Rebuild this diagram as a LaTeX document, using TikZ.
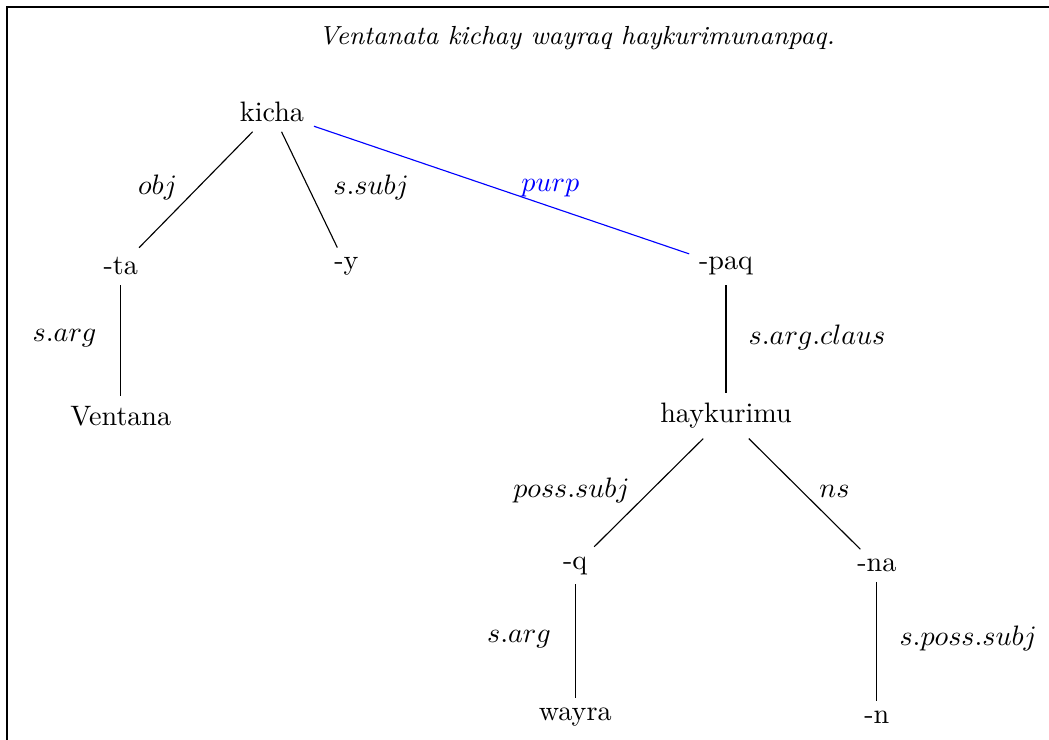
\documentclass[tikz,border=0pt]{standalone}
\usepackage{amsmath}
\usetikzlibrary{positioning}

\begin{document}
\begin{tikzpicture}[
        font=\normalsize,
        word/.style={inner sep=3.33pt},
        dep/.style={black},
        lbl/.style={pos=.48},
        sent/.style={font=\fontsize{9.3}{11}\selectfont\itshape},
    ]
        \useasboundingbox (0,0) rectangle (13.1125,9.25);
        \draw[semithick] (0.0875,0) -- (0.0875,9.1625) -- (13.1125,9.1625);
        \node[sent] (title) at (7.21,8.775) {Ventanata kichay wayraq haykurimunanpaq.};
        \def\ya{7.85} \def\yb{5.92} \def\yc{4.05} \def\yd{2.18} \def\ye{0.29}
        \node[word] (kicha) at (3.40,\ya) {kicha};
        \node[word] (ta) at (1.51,\yb) {-ta};
        \node[word] (y) at (4.33,\yb) {-y};
        \node[word] (paq) at (9.075,\yb) {-paq};
        \node[word] (ventana) at (1.51,\yc) {Ventana};
        \node[word] (haykurimu) at (9.075,\yc) {haykurimu};
        \node[word] (q) at (7.19,\yd) {-q};
        \node[word] (na) at (10.96,\yd) {-na};
        \node[word] (wayra) at (7.19,\ye) {wayra};
        \node[word] (n) at (10.96,\ye) {-n};
        % arcs
        \draw[dep] (kicha) -- node[lbl, left=1.4mm] {$obj$} (ta);
        \draw[dep] (kicha) -- node[lbl, right=1.9mm] {$s.subj$} (y);
        \draw[blue] (kicha) -- node[pos=.63, above, text=blue] {$purp$} (paq);
        \draw[dep] (ta) -- node[lbl, left=1.8mm] {$s.arg$} (ventana);
        \draw[dep] (paq) -- node[lbl, right=1.6mm] {$s.arg.claus$} (haykurimu);
        \draw[dep] (haykurimu) -- node[lbl, left=1.4mm] {$poss.subj$} (q);
        \draw[dep] (haykurimu) -- node[lbl, right=0.9mm] {$ns$} (na);
        \draw[dep] (q) -- node[lbl, left=1.8mm] {$s.arg$} (wayra);
        \draw[dep] (na) -- node[lbl, right=1.6mm] {$s.poss.subj$} (n);
    \end{tikzpicture}
\end{document}
